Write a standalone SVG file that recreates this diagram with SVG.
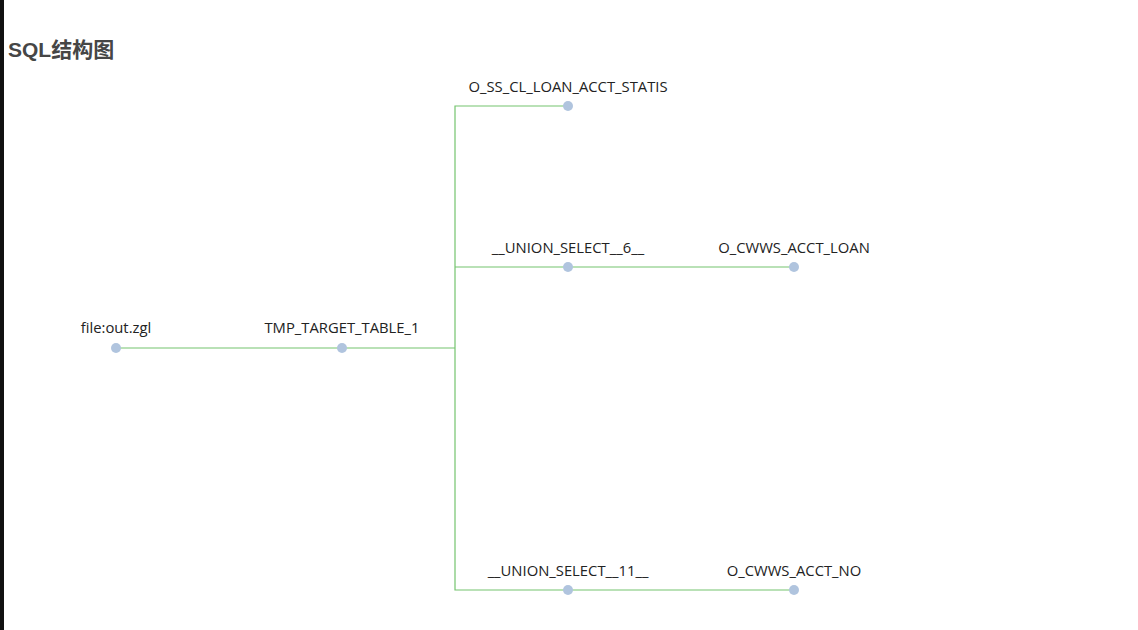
<svg xmlns="http://www.w3.org/2000/svg" width="1138" height="630" viewBox="0 0 1138 630">
<style>
.bg{fill:#ffffff}
.edge{fill:none;stroke:#74c46e;stroke-width:1.2}
.node circle{fill:#b0c4de}
.node text{font-family:"Open Sans","Liberation Sans",sans-serif;font-size:14.8px;fill:#222;text-anchor:middle}
.title{font-family:"Liberation Sans","Noto Sans CJK SC",sans-serif;font-size:21px;font-weight:bold;fill:#464646}
</style>
<rect class="bg" x="0" y="0" width="1138" height="630"/>
<rect x="0" y="0" width="4" height="630" fill="#111"/>
<text class="title" x="8" y="57">SQL结构图</text>
<g id="connectors">
<path class="edge" d="M116 348H455"/>
<path class="edge" d="M568 106H455V590H568"/>
<path class="edge" d="M455 267H794"/>
<path class="edge" d="M568 590H794"/>
</g>
<g id="node-file" class="node"><circle cx="116" cy="348" r="5"/><text x="116" y="333">file:out.zgl</text></g>
<g id="node-tmp" class="node"><circle cx="342" cy="348" r="5"/><text x="342" y="333">TMP_TARGET_TABLE_1</text></g>
<g id="node-statis" class="node"><circle cx="568" cy="106" r="5"/><text x="568" y="92">O_SS_CL_LOAN_ACCT_STATIS</text></g>
<g id="node-union6" class="node"><circle cx="568" cy="267" r="5"/><text x="568" y="253">__UNION_SELECT__6__</text></g>
<g id="node-loan" class="node"><circle cx="794" cy="267" r="5"/><text x="794" y="253">O_CWWS_ACCT_LOAN</text></g>
<g id="node-union11" class="node"><circle cx="568" cy="590" r="5"/><text x="568" y="576">__UNION_SELECT__11__</text></g>
<g id="node-no" class="node"><circle cx="794" cy="590" r="5"/><text x="794" y="576">O_CWWS_ACCT_NO</text></g>
</svg>
